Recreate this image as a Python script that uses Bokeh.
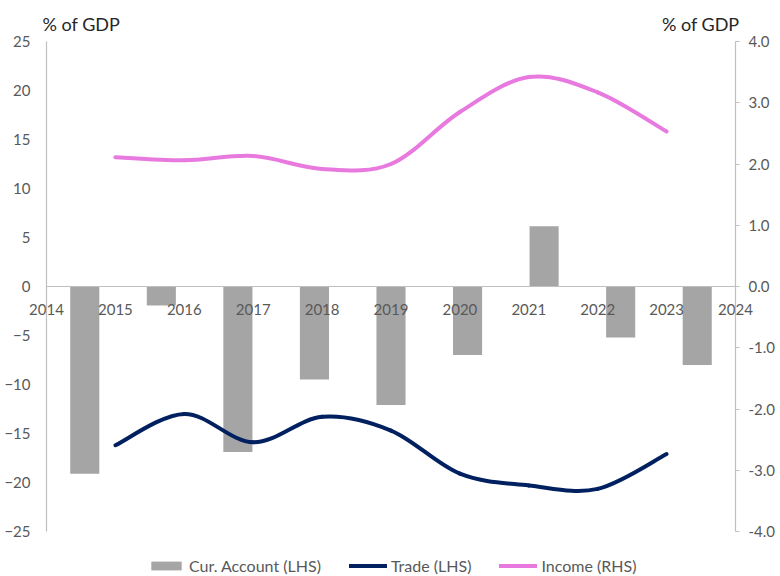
from bokeh.plotting import figure
from bokeh.models import (Range1d, LinearAxis, Legend, LegendItem, Label,
                          FixedTicker, PrintfTickFormatter, ColumnDataSource)
from bokeh.embed import file_html
from bokeh.resources import INLINE

# ---------------- data ----------------
years = [2015, 2016, 2017, 2018, 2019, 2020, 2021, 2022, 2023]
cur_account = [-19.1, -1.95, -16.9, -9.5, -12.1, -7.0, 6.15, -5.2, -8.0]   # LHS
trade = [-16.2, -13.0, -15.9, -13.3, -14.7, -19.1, -20.3, -20.65, -17.1]   # LHS
income = [2.11, 2.06, 2.13, 1.92, 2.0, 2.85, 3.42, 3.17, 2.53]            # RHS
x_tick_years = list(range(2014, 2025))
lhs_ticks = list(range(-25, 30, 5))
rhs_ticks = [-4.0, -3.0, -2.0, -1.0, 0.0, 1.0, 2.0, 3.0, 4.0]
series_names = ["Cur. Account (LHS)", "Trade (LHS)", "Income (RHS)"]
unit_label = "% of GDP"

# ---------------- layout / style ----------------
W, H = 780, 576
M_L, M_R, M_T, M_B = 46, 45, 41, 45      # plot-area margins in pixels
FONT = "Lato"
TICK_COLOR = "#595959"
AXIS_COLOR = "#BFBFBF"
BAR_COLOR = "#A5A5A5"
TRADE_COLOR = "#002060"
INCOME_COLOR = "#E879DF"


def padded(lo, hi, pad_lo_px, pad_hi_px, length_px):
    per = (length_px - pad_lo_px - pad_hi_px) / (hi - lo)
    return Range1d(lo - pad_lo_px / per, hi + pad_hi_px / per)


def smooth_source(xs, ys):
    """Catmull-Rom style bezier control points (Excel-like smoothed line)."""
    n = len(xs)
    pts = list(zip(xs, ys))
    d = dict(x0=[], y0=[], x1=[], y1=[], cx0=[], cy0=[], cx1=[], cy1=[])
    for i in range(n - 1):
        p0 = pts[max(i - 1, 0)]
        p1 = pts[i]
        p2 = pts[i + 1]
        p3 = pts[min(i + 2, n - 1)]
        d["x0"].append(p1[0]); d["y0"].append(p1[1])
        d["x1"].append(p2[0]); d["y1"].append(p2[1])
        d["cx0"].append(p1[0] + (p2[0] - p0[0]) / 6)
        d["cy0"].append(p1[1] + (p2[1] - p0[1]) / 6)
        d["cx1"].append(p2[0] - (p3[0] - p1[0]) / 6)
        d["cy1"].append(p2[1] - (p3[1] - p1[1]) / 6)
    return ColumnDataSource(d)


x0, x1 = x_tick_years[0], x_tick_years[-1]
p = figure(width=W, height=H,
           x_range=padded(x0, x1, M_L, M_R, W),
           y_range=padded(lhs_ticks[0], lhs_ticks[-1], M_B, M_T, H),
           output_backend="svg", toolbar_location=None,
           min_border_left=0, min_border_right=0, min_border_top=0,
           min_border_bottom=0)
p.extra_y_ranges = {"rhs": padded(rhs_ticks[0], rhs_ticks[-1], M_B, M_T, H)}
p.outline_line_color = None
p.xgrid.visible = False
p.ygrid.visible = False
p.background_fill_color = "white"
p.border_fill_color = "white"

# bars live on a category-like slot axis spanning the full width
n = len(years)
slot = (x1 - x0) / n
bar_x = [x0 + (i + 0.5) * slot for i in range(n)]
bars = p.vbar(x=bar_x, top=cur_account, bottom=0, width=slot * 0.38,
              fill_color=BAR_COLOR, line_color=None)

trade_r = p.bezier(x0="x0", y0="y0", x1="x1", y1="y1", cx0="cx0", cy0="cy0",
                   cx1="cx1", cy1="cy1", source=smooth_source(years, trade),
                   line_color=TRADE_COLOR, line_width=4, line_cap="round")
income_r = p.bezier(x0="x0", y0="y0", x1="x1", y1="y1", cx0="cx0", cy0="cy0",
                    cx1="cx1", cy1="cy1", source=smooth_source(years, income),
                    line_color=INCOME_COLOR, line_width=4, line_cap="round",
                    y_range_name="rhs")


def style_axis(ax, standoff, tick_out=0):
    ax.minor_tick_line_color = None
    ax.major_tick_out = tick_out
    ax.major_tick_in = 0
    ax.major_tick_line_color = AXIS_COLOR
    ax.axis_line_color = AXIS_COLOR
    ax.axis_line_width = 1.2
    ax.major_label_standoff = standoff
    ax.major_label_text_font = FONT
    ax.major_label_text_font_size = "15px"
    ax.major_label_text_color = TICK_COLOR


# x axis crosses at zero
xa = p.xaxis[0]
xa.fixed_location = 0
xa.bounds = (x0, x1)
xa.ticker = FixedTicker(ticks=x_tick_years)
style_axis(xa, 17)

ya = p.yaxis[0]
ya.fixed_location = x0
ya.bounds = (lhs_ticks[0], lhs_ticks[-1])
ya.ticker = FixedTicker(ticks=lhs_ticks)
style_axis(ya, 16)

ra = LinearAxis(y_range_name="rhs", ticker=FixedTicker(ticks=rhs_ticks),
                formatter=PrintfTickFormatter(format="%.1f"),
                fixed_location=x1, bounds=(rhs_ticks[0], rhs_ticks[-1]))
style_axis(ra, 9, tick_out=4)
p.add_layout(ra, "right")

# unit labels above each axis
for xv, align, xo in [(x0, "left", -4), (x1, "right", 4)]:
    p.add_layout(Label(x=xv, y=lhs_ticks[-1], text=unit_label, x_offset=xo,
                       y_offset=18, text_align=align, text_baseline="middle",
                       text_font=FONT, text_font_size="18px",
                       text_color="#262626"))

legend = Legend(items=[LegendItem(label=series_names[0], renderers=[bars]),
                       LegendItem(label=series_names[1], renderers=[trade_r]),
                       LegendItem(label=series_names[2], renderers=[income_r])],
                orientation="horizontal", location=(147, 1),
                glyph_width=38, glyph_height=11, label_standoff=4, spacing=28,
                label_height=16, padding=0, margin=0, border_line_color=None,
                background_fill_alpha=0,
                label_text_font=FONT, label_text_font_size="16px",
                label_text_color=TICK_COLOR)
p.add_layout(legend, "center")

open("out.html", "w").write(file_html(p, INLINE))
